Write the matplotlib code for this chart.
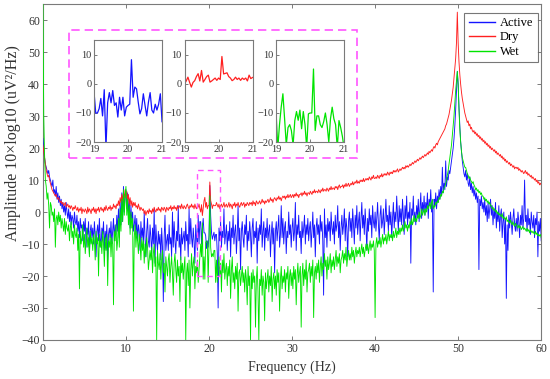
import numpy as np
import matplotlib
matplotlib.use("Agg")
import matplotlib.pyplot as plt
from matplotlib.patches import Rectangle

plt.rcParams['font.family'] = ['Liberation Serif', 'DejaVu Serif']
plt.rcParams['path.simplify'] = False

# ---------------- data (dB), 0.1 Hz resolution, 0..60 Hz ----------------
FREQ_STEP = 0.1

active = [
    23, 20, 17, 15, 14, 13, 12, 13, 11, 10,
    9, 8, 10, 6, 7, 5, 8, 4, 6, 3,
    5, 2, 4, 1, 3, 0, 2, -1, 3, 0,
    -2, 1, -3, 0, -4, -1, -2, -5, 0, -3,
    -4, -1, -6, -3, -8, -2, -5, -4, -9, -3,
    -6, -2, -11, -5, -7, -3, -13, -6, -4, -8,
    -5, -10, -3, -7, -14, -6, -4, -9, -2, -8,
    -11, -5, -7, -3, -12, -6, -9, -4, -15, -7,
    -5, -8, -3, -10, -6, -2, -9, -4, -7, -1,
    -6, 1, -8, 3, -4, 6, -3, 8, 0, 5,
    7, 1, 6, -2, 4, -5, 2, -3, 0, -6,
    -4, -1, -7, -2, -9, -4, -6, -12, -3, -8,
    -5, -10, 0, -8, -14, -6, -2, -9, -11, -4,
    -8, -13, -5, -10, 1, -16, -4, -9, -12, -6,
    -10, -7, -15, -5, -11, -28, -8, -1, -12, -9,
    -7, -12, -4, -10, -8, -14, 0, -11, -3, -9,
    -13, -6, -9, 2, -11, -7, -15, -5, -10, -8,
    -6, -12, -3, -9, -7, -14, 1, -10, -2, -8,
    -11, -5, -9, -16, -4, -8, -12, -1, -10, -3,
    -3, -10, -5, -2, -6.5, -6.5, -7.4, -11.4, -9, -11,
    -7.4, 8.3, -1.1, -6.3, -8.5, -7.4, -6.3, -9, -7, -7,
    -13, -30, -5, -9, -3, -11, -6, -8, 1, -10,
    -7, -4, -12, -6, -9, -3, -14, -5, -8, -1,
    -10, -6, -4, -13, -7, 2, -9, -5, -18, -6,
    -3, -8, -11, -4, -7, -1, -12, -6, -9, -3,
    -7, -14, -5, -2, -10, -6, -8, -3, -16, -5,
    -9, -4, -7, 1, -11, -6, -3, -12, -5, -8,
    -2, -9, -6, -4, -14, -7, -3, -10, -5, -19,
    -6, -3, -9, -5, -1, -11, -7, 2, -8, -2,
    -10, -5, -3, -13, -6, -8, 0, -7, -4, -11,
    -5, -2, -9, -6, 3, -12, -4, -7, -1, -8,
    -6, -13, -3, -8, -5, -1, -10, -4, -7, -2,
    -9, -5, -3, -11, -6, 0, -8, -4, -14, -5,
    -2, -7, -4, -10, -1, -6, -3, -9, -26, 1,
    -8, -4, -11, -2, -6, -3, -9, 0, -5, -7,
    -3, -10, -1, -6, -4, 2, -8, -3, -12, -5,
    -1, -7, -4, 1, -9, -2, -5, -14, -3, 0,
    -6, -2, -8, 1, -4, -10, -1, -5, 2, -7,
    -3, 0, -9, -2, 3, -5, -1, -7, 1, -4,
    -12, -2, -6, 1, -4, -1, -8, 2, -3, -5,
    0, -6, -2, 3, -4, -9, -1, 2, -5, -3,
    1, -7, -2, 4, -3, -1, -6, 2, -4, 0,
    -8, -2, 3, -5, 0, -3, 5, -1, -6, 2,
    -3, 1, -4, 4, -1, -7, 2, -2, 5, -4,
    0, -2, 3, -16, 1, -1, 5, -3, 0, -4,
    2, -1, 4, -3, 1, 6, -2, 3, 0, 5,
    -1, 3, 1, 6, -2, 4, 2, 7, 0, 3,
    -25, 4, 2, 6, 1, 5, 3, 7, 4, 8,
    5, 14, 6, 9, 7, 16, 8, 11, 10, 13,
    12, 14, 16, 18, 20, 23, 27, 32, 38, 44,
    40, 33, 27, 22, 19, 16, 14, 12, 11, 13,
    10, 12, 9, 8, 11, 7, 9, 6, 8, 5,
    7, 4, 6, 3, 5, -18, 4, 2, 5, 1,
    3, 0, 4, -1, 2, -3, 3, -2, 1, 4,
    -1, 2, -4, 1, -2, 3, -5, 0, -3, 2,
    -6, -1, 1, -8, -3, 0, -10, -2, -27, -4,
    -12, -1, -5, 0, -3, -7, -2, 1, -4, -6,
    -2, -6, 0, -3, -8, -1, -4, 2, -5, -2,
    10, -3, -1, -6, 1, -4, -2, -7, 0, -3,
    -5, -1, -8, -2, -4, 0, -14, -3, -6, -2,
    -9,
]

dry = [
    21, 19, 17, 15, 13, 12, 11, 11.5, 10, 9,
    8, 7, 6.5, 6, 5.5, 5, 5.5, 4.5, 4, 4.5,
    3.5, 3, 3.5, 2.5, 3, 2, 2.5, 3, 1.5, 2,
    2.5, 1.5, 2, 1, 2, 1.5, 0.5, 1.5, 1, 2,
    1, 0.5, 1.5, 0, 1, 0.5, 1.5, -0.5, 1, 0.5,
    0, 1, 0.5, -0.5, 1.5, 0, 1, 0.5, -0.5, 1,
    0.5, 1.5, 0, 1, -0.5, 1, 0.5, 1.5, 0, 1,
    1.5, 0.5, 1, 0, 1.5, 0.5, 2, 1, 0.5, 1.5,
    1, 2, 0.5, 1.5, 1, 2.5, 1.5, 2, 1, 2.5,
    2, 3.5, 2, 4.5, 3, 5.5, 3.5, 6, 4.5, 7,
    4.5, 6.5, 3.5, 5.5, 2.5, 4.5, 2, 3.5, 1.5, 3,
    2, 3, 1.5, 2, 1, 2.5, 1.5, 0.5, 1.5, 1,
    0.5, 1, -0.5, 0.5, -1, 0, 0.5, -0.5, 1, 0,
    0.5, -0.5, 1, 0, 1.5, 0.5, 0, 1, 0.5, 1.5,
    0.5, 1, 0, 1.5, 1, 0.5, 1.5, 1, 0, 1.5,
    1, 0.5, 1.5, 1, 2, 0.5, 1.5, 1, 2, 1,
    1.5, 0.5, 2, 1, 1.5, 2, 1, 2.5, 1.5, 1,
    2, 1.5, 1, 2, 2.5, 1.5, 1, 2, 1.5, 2.5,
    1.5, 2, 1, 2.5, 1.5, 1, 2, 1.5, 2.5, 1,
    0, 2.3, -1.1, 1.1, 3.5, 4.6, 1.5, 3, 1, 2,
    2, 9.4, 3.6, 2.5, 1.1, 2.3, 2, 2, 2, 3,
    2.2, 1.5, 2.5, 1, 2, 2.5, 1.5, 2, 3, 1.5,
    2, 2.5, 1.5, 2, 3, 1.5, 2.5, 2, 1, 2.5,
    2, 3, 1.5, 2.5, 2, 3, 2, 1.5, 2.5, 3,
    2, 2.5, 3, 1.5, 2.5, 2, 3, 2.5, 2, 3,
    2.5, 3, 2, 3.5, 2.5, 3, 2, 3.5, 3, 2.5,
    3, 3.5, 2.5, 3, 4, 3, 3.5, 2.5, 3.5, 3,
    3.5, 4, 3, 3.5, 4.5, 3.5, 4, 3, 4, 4.5,
    4, 3.5, 4.5, 4, 5, 4, 4.5, 3.5, 4.5, 5,
    4.5, 5, 4, 5, 4.5, 5.5, 4.5, 5, 5.5, 4.5,
    5, 5.5, 4.5, 5.5, 5, 6, 5, 5.5, 4.5, 5.5,
    5.5, 6, 5, 6, 5.5, 6.5, 5.5, 6, 5, 6,
    6, 5.5, 6.5, 6, 5.5, 6.5, 6, 7, 6, 6.5,
    6.5, 6, 7, 6.5, 6, 7, 6.5, 7.5, 6.5, 7,
    7, 6.5, 7.5, 7, 6.5, 7.5, 7, 8, 7, 7.5,
    7.5, 7, 8, 7.5, 8, 7, 8, 8.5, 7.5, 8,
    8, 8.5, 7.5, 8.5, 8, 9, 8, 8.5, 9, 8,
    8.5, 9, 8.5, 9.5, 8.5, 9, 9.5, 9, 10, 9,
    9.5, 9, 10, 9.5, 10, 9.5, 10.5, 9.5, 10, 10.5,
    10, 10.5, 10, 11, 10.5, 10, 11, 10.5, 11.5, 10.5,
    10.5, 11, 10.5, 11.5, 11, 10.5, 11.5, 11, 12, 11,
    11.5, 12, 11.5, 12, 11.5, 12.5, 12, 11.5, 12.5, 12,
    12.5, 12, 13, 12.5, 13, 12.5, 13, 13.5, 12.5, 13,
    13.5, 13, 13.5, 14, 13.5, 14, 13.5, 14.5, 14, 14.5,
    14, 14.5, 15, 14.5, 15, 15.5, 15, 15.5, 16, 15.5,
    16, 16.5, 16, 16.5, 17, 16.5, 17, 17.5, 17, 17.5,
    18, 17.5, 18, 18.5, 18, 19, 18.5, 19, 19.5, 19,
    20, 20.5, 20, 21, 21.5, 21, 22, 22.5, 23, 23.5,
    24, 24.5, 25, 25.5, 26, 27, 27.5, 28.5, 29.5, 30.5,
    32, 33.5, 35, 37, 39, 42, 45, 48, 53, 62.5,
    53, 47, 43, 40, 37.5, 35.5, 34, 32.5, 31, 30,
    29, 28, 28.5, 27, 27.5, 26, 26.5, 25.5, 25, 25.5,
    24.5, 25, 24, 24.5, 23.5, 24, 23, 23.5, 22.5, 23,
    22, 22.5, 21.5, 22, 21, 21.5, 20.5, 21, 20, 20.5,
    19.5, 20, 19.5, 19, 19.5, 18.5, 19, 18, 18.5, 18,
    17.5, 18, 17, 17.5, 16.5, 17, 16, 16.5, 15.5, 16,
    15.5, 15, 15.5, 14.5, 15, 14.5, 14, 14.5, 13.5, 14,
    14, 13.5, 14, 13, 13.5, 13, 12.5, 13, 12.5, 12,
    12.5, 13, 12, 12.5, 11.5, 12, 11.5, 11, 11.5, 10.5,
    11, 10.5, 10, 10.5, 9.5, 10, 9, 9.5, 8.5, 9,
    8.5,
]

wet = [
    66, 30, 18, 10, 8, 4, 6, 2, -5, 3,
    2, -1, 0, -3, 1, -11, -2, -1, -4, 0,
    -3, -1, -5, -2, -4, -6, -2, -7, -3, -5,
    -6, -4, -9, -5, -3, -8, -6, -10, -4, -7,
    -8, -5, -12, -7, -24, -6, -10, -8, -4, -11,
    -7, -13, -9, -5, -11, -8, -14, -6, -10, -8,
    -12, -7, -9, -15, -6, -10, -8, -20, -7, -11,
    -9, -13, -6, -10, -17, -8, -12, -7, -23, -9,
    -11, -7, -14, -8, -10, -29, -6, -9, -4, -12,
    -9, -2, -11, 1, -6, 4, -3, 7, -1, 5,
    8, -1, 4, -4, 2, -7, 0, -5, -2, -31,
    -8, -4, -11, -6, -9, -13, -7, -10, -15, -8,
    -12, -9, -16, -10, -14, -8, -11, -18, -15, -12,
    -15, -11, -19, -13, -10, -17, -14, -40, -12, -16,
    -18, -13, -21, -15, -12, -19, -16, -25, -14, -17,
    -20, -15, -13, -22, -17, -14, -19, -26, -16, -13,
    -18, -22, -15, -20, -17, -28, -14, -19, -16, -21,
    -17, -14, -40, -19, -16, -23, -15, -30, -18, -13,
    -20, -16, -14, -24, -17, -19, -15, -22, -18, -14,
    -10, -14, -3.4, -21, -14, -21, -9.5, -9, -9.5, -22,
    -10, 5.1, -11, -14, -13, -14, -12, -12, -22, -15,
    -22, -17, -14, -20, -16, -25, -15, -19, -13, -21,
    -18, -16, -23, -17, -20, -15, -27, -18, -14, -22,
    -19, -24, -17, -21, -16, -31, -19, -18, -23, -20,
    -17, -22, -19, -25, -18, -21, -29, -17, -23, -20,
    -40, -19, -24, -18, -22, -20, -36, -21, -17, -25,
    -40, -21, -23, -18, -26, -20, -22, -34, -19, -24,
    -21, -18, -25, -20, -23, -17, -28, -21, -19, -24,
    -20, -26, -18, -22, -19, -31, -21, -17, -24, -20,
    -22, -18, -25, -19, -21, -17, -27, -20, -18, -23,
    -19, -24, -17, -21, -18, -29, -20, -16, -22, -19,
    -17, -36, -20, -16, -23, -18, -21, -15, -25, -19,
    -18, -16, -22, -17, -20, -15, -33, -19, -17, -21,
    -16, -19, -15, -22, -17, -14, -20, -16, -18, -13,
    -17, -15, -21, -14, -18, -16, -13, -19, -15, -17,
    -14, -18, -15, -12, -17, -14, -16, -13, -19, -15,
    -14, -12, -16, -13, -15, -11, -17, -14, -12, -15,
    -13, -15, -11, -14, -12, -16, -13, -11, -14, -12,
    -13, -11, -14, -12, -10, -13, -11, -14, -12, -10,
    -12, -10, -13, -11, -9, -12, -10, -11, -9, -12,
    -33, -10, -8, -11, -9, -10, -8, -11, -9, -7,
    -10, -8, -9, -7, -10, -8, -6, -9, -7, -8,
    -7, -9, -6, -8, -7, -5, -8, -6, -7, -5,
    -7, -5, -6, -4, -6, -5, -3, -5, -4, -6,
    -4, -5, -3, -4, -2, -4, -3, -1, -3, -2,
    -3, -1, -2, 0, -2, -1, 1, -1, 0, 1,
    -1, 1, 0, 2, 1, 2, 3, 1, 3, 4,
    1, 2, 1.5, 3, 2.5, 3.5, 3, 4.5, 4, 5.5,
    5, 6.5, 6, 7.5, 8, 9, 10, 11.5, 13, 15,
    17, 19, 21, 24, 27, 30, 34, 38, 41, 44,
    40, 32, 26, 22, 19, 17, 16, 15, 14, 14,
    13, 12, 11.5, 10.5, 11, 10, 9.5, 9, 9.5, 8.5,
    8, 7, 7.5, 6.5, 7, 6, 6.5, 5.5, 6, 5,
    5, 4, 4.5, 3.5, 4, 3, 3.5, 2.5, 3, 2,
    2, 1, 1.5, 0.5, 1, 0, 0.5, -0.5, 0, -1,
    -0.5, -1, -1.5, -0.5, -2, -1.5, -2, -2.5, -1.5, -3,
    -2.5, -3, -3.5, -2.5, -3.5, -4, -3, -4, -4.5, -3.5,
    -4, -4.5, -5, -4, -5, -4.5, -5.5, -5, -4.5, -5.5,
    -5, -5.5, -6, -5, -6, -5.5, -6.5, -5.5, -6, -6.5,
    -6, -6.5, -7, -6, -7, -6.5, -7.5, -7, -7.5, -7,
    -8,
]

# zoomed insets: 19..21 Hz at 0.05 Hz resolution
INSET_STEP = 0.05
INSET_START = 19.0
active_zoom = [-3, -10, -10, -8.5, -5, -11, -2, -22, -6.5, -3, -6.5, -2.3, -7.4,
               -6.5, -11.4, -4.6, -9, -4.6, -11, -8, -7.4, -7, 8.3, -4.6, -1.1,
               -1.7, -6.3, -10.3, -8.5, -3.4, -7.4, -11, -6.3, -3, -9, -10, -7,
               -9, -7, -3.4, -13]
dry_zoom = [0, 1, 2.3, 0.5, -1.1, 0.5, 1.1, 2.5, 3.5, 1, 4.6, 0.6, 1.5, 2.5, 3,
            0.6, 1, 1.5, 2, 1.2, 2, 1.5, 9.4, 3.4, 3.6, 3.8, 2.5, 2, 1.1, 1.5,
            2.3, 1.5, 2, 1.2, 2, 1.5, 2, 1, 3, 1.8, 2.2]
wet_zoom = [-10, -22, -14, -8, -3.4, -12, -21, -15, -14, -16, -21, -12.6, -9.5,
            -12.5, -9, -15.4, -9.5, -14, -22, -10.3, -10, -10, 5.1, -16, -11,
            -11, -14, -15, -13, -10, -14, -20, -12, -8, -12, -14, -22, -12.6,
            -15, -18, -22]

labels = ["Active", "Dry", "Wet"]
colors = ["#1414ff", "#ff2020", "#00e400"]

x_ticks = [0, 10, 20, 30, 40, 50, 60]
y_ticks = [-40, -30, -20, -10, 0, 10, 20, 30, 40, 50, 60]
inset_xticks = [19, 20, 21]
inset_yticks = [-20, -10, 0, 10]

# ---------------- figure ----------------
fig = plt.figure(figsize=(5.5, 3.79), dpi=100)
ax = fig.add_axes([0.078, 0.103, 0.906, 0.886])

spine_c = "#7a7a7a"
text_c = "#333333"

def style(a, fs):
    for s in a.spines.values():
        s.set_color(spine_c)
        s.set_linewidth(0.8)
    a.tick_params(direction="in", top=True, right=True, length=3,
                  width=0.7, colors=spine_c, labelcolor=text_c, labelsize=fs,
                  pad=2)

series = [active, dry, wet]
for vals, lab, c in zip(series, labels, colors):
    v = np.asarray(vals, dtype=float)
    f = np.arange(len(v)) * FREQ_STEP
    ax.plot(f, v, color=c, lw=0.65, label=lab, zorder=3)

ax.set_xlim(0, 60)
ax.set_ylim(-40, 65)
ax.set_xticks(x_ticks)
ax.set_yticks(y_ticks)
style(ax, 8.5)
ax.set_xlabel("Frequency (Hz)", fontsize=10, color=text_c, labelpad=4)
ax.set_ylabel("Amplitude 10×log10 (uV²/Hz)", fontsize=11.5, color=text_c)
ax.yaxis.set_label_coords(-0.043, 0.585)

leg = ax.legend(loc="upper right", bbox_to_anchor=(0.993, 0.975),
                fontsize=9, frameon=True, fancybox=False,
                borderpad=0.35, handlelength=2.1, handletextpad=0.4,
                labelspacing=0.2, borderaxespad=0.0)
leg.set_zorder(6)
leg.get_frame().set_edgecolor("#555555")
leg.get_frame().set_linewidth(0.8)
for line in leg.get_lines():
    line.set_linewidth(1.0)

mag = "#ff55ff"
# small dashed marker rectangle in data coords
ax.add_patch(Rectangle((18.6, -20), 2.7, 33, fill=False, ls=(0, (4, 3)),
                       ec=mag, lw=1.0, zorder=5))

# dashed frame around the insets (figure coords)
fig.add_artist(Rectangle((0.1255, 0.583), 0.5236, 0.3377, fill=False,
                         transform=fig.transFigure, ls=(0, (5, 3)),
                         ec=mag, lw=1.2, zorder=10))

inset_lefts = [0.171, 0.3355, 0.502]
zoom_series = [active_zoom, dry_zoom, wet_zoom]
for left, vals, c in zip(inset_lefts, zoom_series, colors):
    ia = fig.add_axes([left, 0.625, 0.1236, 0.269])
    v = np.asarray(vals, dtype=float)
    f = INSET_START + np.arange(len(v)) * INSET_STEP
    ia.plot(f, v, color=c, lw=0.9)
    ia.set_xlim(19, 21)
    ia.set_ylim(-20, 15)
    ia.set_xticks(inset_xticks)
    ia.set_yticks(inset_yticks)
    style(ia, 7.5)
    ia.tick_params(top=False, right=False, length=2.5)

fig.savefig("out.png", dpi=100)
